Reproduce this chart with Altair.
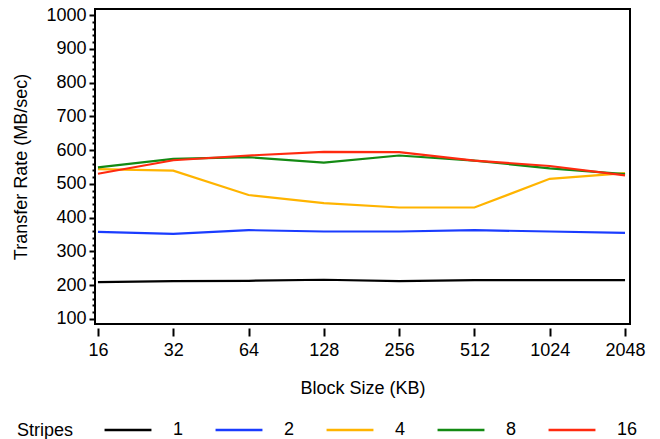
import altair as alt
import pandas as pd

block_sizes = [16, 32, 64, 128, 256, 512, 1024, 2048]
stripes = ["1", "2", "4", "8", "16"]
rate_1 = [209, 212, 213, 216, 212, 215, 215, 215]
rate_2 = [358, 352, 363, 359, 359, 363, 359, 355]
rate_4 = [544, 539, 467, 443, 430, 430, 515, 532]
rate_8 = [549, 574, 579, 563, 584, 569, 546, 529]
rate_16 = [530, 570, 584, 595, 594, 569, 553, 525]
colors = ["#000000", "#1a3cff", "#ffb400", "#138a13", "#ff2a0f"]
y_ticks = list(range(100, 1001, 20))

series = [rate_1, rate_2, rate_4, rate_8, rate_16]
rows = []
for s, vals in zip(stripes, series):
    for b, v in zip(block_sizes, vals):
        rows.append({"block": b, "rate": v, "stripes": s})
df = pd.DataFrame(rows)

FONT = "Liberation Sans"

chart = alt.Chart(df).mark_line(strokeWidth=2.2).encode(
    x=alt.X(
        "block:Q",
        scale=alt.Scale(type="log", base=2, domain=[15.57, 2144], nice=False, zero=False),
        axis=alt.Axis(
            values=block_sizes, format="d", title="Block Size (KB)",
            domain=False, offset=4, tickSize=8, tickWidth=2, tickColor="black",
            labelFlush=False, labelPadding=5, titlePadding=20,
            grid=False,
        ),
    ),
    y=alt.Y(
        "rate:Q",
        scale=alt.Scale(domain=[85, 1018], nice=False, zero=False),
        axis=alt.Axis(
            values=y_ticks, title="Transfer Rate (MB/sec)", format="d",
            labelExpr="datum.value % 100 === 0 ? datum.label : ''",
            labelOverlap=False,
            domain=False,
            tickSize={"condition": {"test": "datum.value % 100 === 0", "value": 6}, "value": 3},
            tickWidth=2, tickColor="black",
            labelPadding=3, titlePadding=15, grid=False,
        ),
    ),
    color=alt.Color(
        "stripes:N",
        sort=stripes,
        scale=alt.Scale(domain=stripes, range=colors),
        legend=alt.Legend(
            title="Stripes", orient="none", direction="horizontal",
            legendX=-78, legendY=396,
            titleOrient="left", titlePadding=29, titleFontWeight="normal",
            titleBaseline="top", titleAnchor="middle",
            symbolType="stroke", symbolSize=2200, symbolStrokeWidth=2.5,
            labelOffset=20, columnPadding=26,
        ),
    ),
    order=alt.Order("stripes_order:Q"),
).transform_calculate(
    stripes_order="toNumber(datum.stripes)"
).properties(
    width=535, height=315,
    background="white",
    autosize=alt.AutoSizeParams(type="none"),
    padding={"left": 95, "top": 9, "right": 30, "bottom": 115},
).configure_view(
    stroke="black", strokeWidth=2,
).configure_axis(
    labelFont=FONT, titleFont=FONT, labelFontSize=18, titleFontSize=18,
    titleFontWeight="normal", labelColor="black", titleColor="black",
).configure_legend(
    labelFont=FONT, titleFont=FONT, labelFontSize=18, titleFontSize=18,
    labelColor="black", titleColor="black",
)

chart.save("out.html", embed_options={"renderer": "svg", "actions": False})
